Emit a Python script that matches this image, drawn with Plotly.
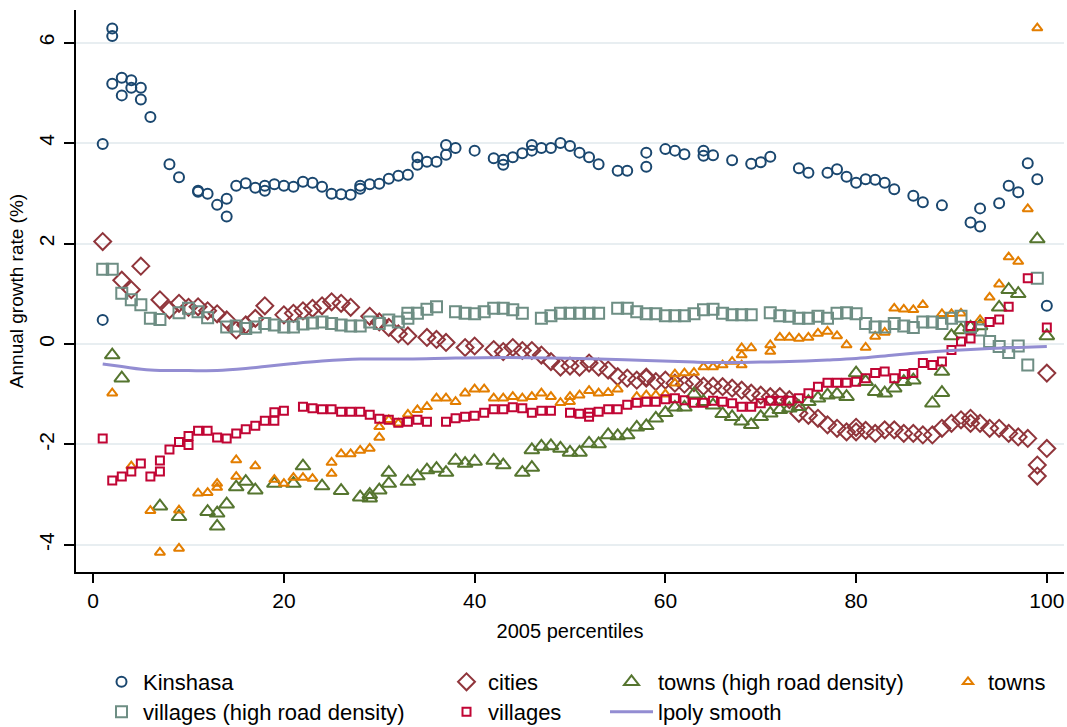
import plotly.graph_objects as go

# ---- data: annual growth rate (%) by 2005 population percentile ----
kinshasa_x = [1, 1, 2, 2, 2, 3, 3, 4, 4, 5, 5, 6, 8, 9, 11, 11, 12, 13, 14, 14, 15, 16, 17, 18, 18, 19, 20, 21, 22, 23,
              24, 25, 26, 27, 28, 28, 29, 30, 31, 32, 33, 34, 34, 35, 36, 37, 37, 38, 40, 42, 43, 43, 44, 45, 46, 46,
              47, 48, 49, 50, 51, 52, 53, 55, 56, 58, 58, 60, 61, 62, 64, 64, 65, 67, 69, 70, 71, 74, 75, 77, 78, 79,
              80, 81, 82, 83, 84, 86, 87, 89, 92, 93, 93, 95, 96, 97, 98, 99, 100]
kinshasa_y = [3.98, 0.48, 6.28, 6.13, 5.18, 5.30, 4.95, 5.25, 5.10, 5.10, 4.87, 4.52, 3.58, 3.32, 3.05, 3.03, 2.99,
              2.77, 2.89, 2.54, 3.15, 3.20, 3.11, 3.15, 3.05, 3.18, 3.15, 3.13, 3.23, 3.21, 3.13, 2.99, 2.98, 2.97,
              3.15, 3.09, 3.18, 3.19, 3.29, 3.35, 3.37, 3.72, 3.57, 3.63, 3.63, 3.96, 3.77, 3.90, 3.85, 3.70, 3.67,
              3.57, 3.72, 3.80, 3.96, 3.85, 3.90, 3.90, 4.00, 3.94, 3.81, 3.72, 3.58, 3.45, 3.45, 3.81, 3.53, 3.88,
              3.85, 3.78, 3.85, 3.75, 3.76, 3.66, 3.59, 3.62, 3.73, 3.50, 3.41, 3.41, 3.48, 3.33, 3.21, 3.28, 3.27,
              3.21, 3.08, 2.95, 2.82, 2.76, 2.42, 2.70, 2.34, 2.80, 3.15, 3.02, 3.60, 3.28, 0.76]

cities_x = [1, 3, 4, 5, 7, 8, 9, 10, 11, 12, 13, 14, 15, 16, 17, 18, 20, 21, 22, 23, 24, 25, 26, 27, 29, 30, 31, 32,
            33, 35, 36, 37, 39, 40, 42, 43, 44, 45, 46, 47, 48, 49, 50, 51, 52, 53, 54, 55, 56, 57, 58, 58, 59, 60,
            61, 62, 63, 64, 65, 66, 67, 68, 69, 70, 71, 72, 73, 74, 75, 76, 77, 78, 79, 80, 80, 81, 82, 83, 84, 85,
            86, 87, 88, 89, 90, 91, 92, 92, 93, 94, 95, 96, 97, 98, 99, 99, 100, 100]
cities_y = [2.04, 1.27, 1.08, 1.55, 0.88, 0.68, 0.81, 0.73, 0.74, 0.66, 0.60, 0.48, 0.28, 0.38, 0.51, 0.76, 0.58,
            0.61, 0.66, 0.71, 0.76, 0.84, 0.81, 0.73, 0.55, 0.44, 0.33, 0.20, 0.16, 0.13, 0.09, 0.03, -0.07, -0.04,
            -0.11, -0.15, -0.07, -0.13, -0.13, -0.22, -0.35, -0.46, -0.44, -0.46, -0.38, -0.46, -0.52, -0.65,
            -0.68, -0.72, -0.68, -0.66, -0.75, -0.72, -0.78, -0.80, -0.77, -0.84, -0.84, -0.85, -0.88, -0.92,
            -0.98, -1.02, -1.05, -1.05, -1.11, -1.38, -1.42, -1.48, -1.61, -1.68, -1.75, -1.66, -1.75, -1.72,
            -1.78, -1.71, -1.71, -1.78, -1.78, -1.81, -1.81, -1.68, -1.58, -1.51, -1.48, -1.58, -1.58, -1.68,
            -1.68, -1.78, -1.85, -1.88, -2.41, -2.63, -2.08, -0.58]

towns_hrd_x = [2, 3, 7, 9, 12, 13, 13, 14, 15, 16, 17, 19, 21, 22, 24, 26, 28, 29, 29, 30, 31, 31, 33, 34, 35, 36,
               37, 38, 39, 40, 42, 43, 45, 46, 46, 47, 48, 49, 50, 51, 52, 53, 54, 55, 56, 57, 58, 59, 60, 61, 62,
               63, 64, 65, 66, 67, 68, 69, 70, 71, 72, 73, 74, 75, 76, 77, 78, 79, 80, 81, 82, 83, 84, 85, 86, 88,
               89, 89, 90, 91, 92, 93, 95, 96, 97, 99, 100]
towns_hrd_y = [-0.22, -0.68, -3.23, -3.44, -3.34, -3.37, -3.63, -3.19, -2.85, -2.74, -2.91, -2.78, -2.78, -2.43,
               -2.83, -2.92, -3.05, -3.00, -3.07, -2.91, -2.56, -2.78, -2.74, -2.63, -2.51, -2.48, -2.56, -2.32,
               -2.38, -2.34, -2.32, -2.41, -2.56, -2.46, -2.11, -2.04, -2.03, -2.08, -2.16, -2.16, -1.98, -1.99,
               -1.81, -1.83, -1.81, -1.66, -1.63, -1.48, -1.37, -1.26, -1.26, -1.00, -1.15, -1.22, -1.39, -1.45,
               -1.54, -1.61, -1.45, -1.38, -1.31, -1.28, -1.25, -1.15, -1.08, -1.02, -1.00, -1.05, -0.58, -0.75,
               -0.95, -0.98, -0.88, -0.75, -0.72, -1.18, -0.97, -0.55, 0.16, 0.28, 0.33, 0.36, 0.73, 1.08, 1.00,
               2.09, 0.16]

towns_x = [2, 4, 6, 7, 9, 9, 11, 12, 13, 13, 15, 15, 17, 19, 20, 21, 22, 23, 25, 25, 26, 27, 28, 29, 30, 30, 31, 32,
           33, 34, 35, 36, 37, 38, 39, 40, 41, 42, 43, 44, 45, 46, 47, 48, 49, 50, 50, 51, 52, 53, 54, 55, 57, 58,
           59, 60, 61, 61, 62, 63, 64, 65, 66, 67, 68, 68, 68, 69, 71, 71, 72, 73, 74, 75, 76, 77, 78, 79, 81, 82,
           83, 84, 85, 86, 87, 89, 90, 91, 93, 94, 95, 96, 97, 98, 99]
towns_y = [-0.98, -2.43, -3.32, -4.15, -4.07, -3.31, -2.97, -2.96, -2.78, -2.86, -2.31, -2.64, -2.43, -2.70, -2.78,
           -2.66, -2.66, -2.68, -2.36, -2.58, -2.19, -2.19, -2.12, -2.08, -1.86, -1.65, -1.51, -1.58, -1.40, -1.31,
           -1.25, -1.08, -1.08, -1.15, -0.98, -0.90, -0.90, -1.08, -1.08, -1.05, -1.08, -1.05, -0.98, -1.05, -1.17,
           -1.05, -1.15, -1.02, -0.93, -0.98, -0.97, -0.90, -1.05, -1.02, -1.02, -1.00, -0.60, -0.78, -0.58, -0.57,
           -0.46, -0.46, -0.42, -0.35, -0.42, -0.22, -0.08, -0.08, -0.02, -0.15, 0.13, 0.13, 0.11, 0.13, 0.21,
           0.25, 0.16, -0.02, -0.07, 0.15, 0.23, 0.71, 0.69, 0.68, 0.78, 0.60, 0.60, 0.61, 0.48, 0.93, 1.19, 1.73,
           1.64, 2.69, 6.29]

villages_hrd_x = [1, 2, 3, 4, 5, 6, 7, 9, 10, 11, 12, 14, 15, 16, 17, 18, 19, 20, 21, 22, 23, 24, 25, 26, 27, 28, 29,
                  30, 31, 32, 33, 33, 34, 35, 36, 38, 39, 40, 41, 42, 43, 44, 45, 47, 48, 49, 50, 51, 52, 53, 55, 56,
                  57, 58, 59, 60, 61, 62, 63, 64, 65, 66, 67, 68, 69, 71, 72, 73, 74, 75, 76, 77, 78, 79, 80, 81,
                  82, 83, 84, 85, 86, 87, 88, 89, 90, 91, 92, 93, 94, 95, 96, 97, 98, 99]
villages_hrd_y = [1.49, 1.49, 1.01, 0.88, 0.78, 0.51, 0.49, 0.62, 0.71, 0.64, 0.52, 0.34, 0.36, 0.31, 0.34, 0.41,
                  0.38, 0.34, 0.34, 0.40, 0.42, 0.44, 0.41, 0.38, 0.36, 0.36, 0.44, 0.41, 0.48, 0.44, 0.61, 0.51,
                  0.61, 0.69, 0.74, 0.64, 0.61, 0.60, 0.64, 0.71, 0.71, 0.68, 0.61, 0.51, 0.56, 0.61, 0.61, 0.61,
                  0.61, 0.61, 0.71, 0.71, 0.64, 0.60, 0.60, 0.56, 0.56, 0.56, 0.60, 0.68, 0.69, 0.61, 0.58, 0.58,
                  0.58, 0.62, 0.56, 0.55, 0.51, 0.51, 0.55, 0.51, 0.61, 0.62, 0.60, 0.41, 0.34, 0.34, 0.41, 0.36,
                  0.33, 0.44, 0.44, 0.41, 0.51, 0.55, 0.33, 0.28, 0.05, -0.05, -0.17, -0.04, -0.42, 1.31]

villages_x = [1, 2, 3, 4, 5, 6, 7, 7, 8, 9, 10, 10, 11, 12, 13, 14, 15, 16, 17, 18, 19, 19, 20, 22, 23, 24, 25, 26,
              27, 28, 29, 30, 31, 32, 33, 34, 35, 37, 38, 39, 40, 41, 42, 43, 44, 45, 46, 47, 48, 50, 51, 52, 52,
              53, 54, 55, 56, 57, 58, 59, 60, 61, 62, 63, 64, 65, 66, 67, 68, 69, 70, 71, 72, 73, 74, 75, 76, 77,
              78, 79, 80, 81, 82, 83, 84, 85, 86, 87, 88, 89, 90, 91, 92, 92, 94, 95, 96, 98, 100]
villages_y = [-1.88, -2.72, -2.64, -2.54, -2.38, -2.64, -2.54, -2.32, -2.10, -1.95, -2.01, -1.83, -1.73, -1.73,
              -1.86, -1.88, -1.78, -1.70, -1.63, -1.53, -1.53, -1.36, -1.33, -1.25, -1.28, -1.30, -1.30, -1.35,
              -1.35, -1.35, -1.41, -1.49, -1.51, -1.57, -1.55, -1.51, -1.55, -1.55, -1.48, -1.45, -1.43, -1.37,
              -1.30, -1.30, -1.26, -1.28, -1.37, -1.33, -1.33, -1.37, -1.39, -1.37, -1.45, -1.35, -1.30, -1.30,
              -1.21, -1.17, -1.15, -1.15, -1.10, -1.08, -1.12, -1.17, -1.17, -1.13, -1.15, -1.18, -1.25, -1.25,
              -1.18, -1.13, -1.13, -1.13, -1.08, -0.98, -0.85, -0.77, -0.77, -0.77, -0.75, -0.68, -0.58, -0.55,
              -0.68, -0.60, -0.58, -0.38, -0.42, -0.35, -0.12, 0.05, 0.11, 0.36, 0.44, 0.49, 0.74, 1.31, 0.33]

# local polynomial smooth, sampled along the percentile axis
lpoly_x = [1, 3, 6, 10, 13, 16, 18, 21, 24, 28, 33, 38, 43, 48, 53, 58, 63, 66, 70, 73, 77, 80, 84, 87, 90, 94, 97, 100]
lpoly_y = [-0.40, -0.45, -0.52, -0.53, -0.53, -0.49, -0.45, -0.39, -0.34, -0.30, -0.30, -0.28, -0.27, -0.28, -0.30,
           -0.33, -0.36, -0.37, -0.36, -0.35, -0.32, -0.29, -0.22, -0.17, -0.13, -0.09, -0.07, -0.05]

x_ticks = [0, 20, 40, 60, 80, 100]
y_ticks = [-4, -2, 0, 2, 4, 6]
y_ticktext = ["-4", "-2", "0", "2", "4", "6"]

# ---- styling ----
NAVY = "#1a476f"
MAROON = "#90353b"
FOREST = "#55752f"
ORANGE = "#e37e00"
TEAL = "#6e8e84"
CRANBERRY = "#c10534"
LAVENDER = "#938dd2"

W, H = 1067, 727
M_L, M_R, M_T, M_B = 76, 3, 10, 155
PLOT_W = W - M_L - M_R
PLOT_H = H - M_T - M_B

fig = go.Figure()


def scatter(x, y, name, symbol, size, color, legend, width=2):
    fig.add_trace(go.Scatter(
        x=x, y=y, name=name, mode="markers", legend=legend,
        marker=dict(symbol=symbol, size=size, color=color, line=dict(width=width, color=color)),
    ))


scatter(kinshasa_x, kinshasa_y, "Kinshasa", "circle-open", 10, NAVY, "legend")
scatter(cities_x, cities_y, "cities", "diamond-open", 13, MAROON, "legend2")
scatter(towns_hrd_x, towns_hrd_y, "towns (high road density)", "triangle-up-open", 13, FOREST, "legend3")
scatter(towns_x, towns_y, "towns", "triangle-up-open", 9, ORANGE, "legend4")
scatter(villages_hrd_x, villages_hrd_y, "villages (high road density)", "square-open", 11, TEAL, "legend5")
scatter(villages_x, villages_y, "villages", "square-open", 8, CRANBERRY, "legend6")

fig.add_trace(go.Scatter(
    x=lpoly_x, y=lpoly_y, name="lpoly smooth", mode="lines", legend="legend7",
    line=dict(color=LAVENDER, width=3, shape="spline", smoothing=1.0),
))

FONT = "Liberation Sans, Arial, Helvetica, sans-serif"


def key(xpx, ypx, itemwidth=30):
    # one legend box per key, placed below the plot area (paper coordinates)
    return dict(
        x=(xpx - M_L) / PLOT_W, y=(H - M_B - ypx) / PLOT_H, xref="paper", yref="paper",
        xanchor="left", yanchor="middle", orientation="v",
        bgcolor="rgba(0,0,0,0)", borderwidth=0, itemwidth=itemwidth,
        font=dict(family=FONT, size=22, color="black"),
    )


fig.update_layout(
    width=W, height=H,
    margin=dict(l=M_L, r=M_R, t=M_T, b=M_B, autoexpand=False),
    paper_bgcolor="white", plot_bgcolor="white",
    font=dict(family=FONT, color="black"),
    showlegend=True,
    legend=key(100, 682, 33),
    legend2=key(445, 682, 33),
    legend3=key(605, 682, 43),
    legend4=key(948, 682, 30),
    legend5=key(100, 712, 33),
    legend6=key(445, 712, 33),
    legend7=key(605, 712, 43),
    xaxis=dict(
        range=[-1.8, 101.8], tickvals=x_ticks, ticks="outside", ticklen=9, tickwidth=1.5,
        tickcolor="black", showline=True, linecolor="black", linewidth=1.5,
        showgrid=False, zeroline=False, tickfont=dict(size=21), ticklabelstandoff=0,
        title=dict(text="2005 percentiles", font=dict(size=20), standoff=13),
    ),
    yaxis=dict(
        range=[-4.54, 6.65], tickvals=y_ticks, ticktext=y_ticktext, tickangle=-90,
        ticks="outside", ticklen=10, tickwidth=1.5, tickcolor="black",
        showline=True, linecolor="black", linewidth=1.5,
        showgrid=True, gridcolor="#e8eef1", gridwidth=2, zeroline=False,
        tickfont=dict(size=21), ticklabelstandoff=2,
        title=dict(text="Annual growth rate (%)", font=dict(size=19), standoff=6),
    ),
)

fig.write_html("out.html")
